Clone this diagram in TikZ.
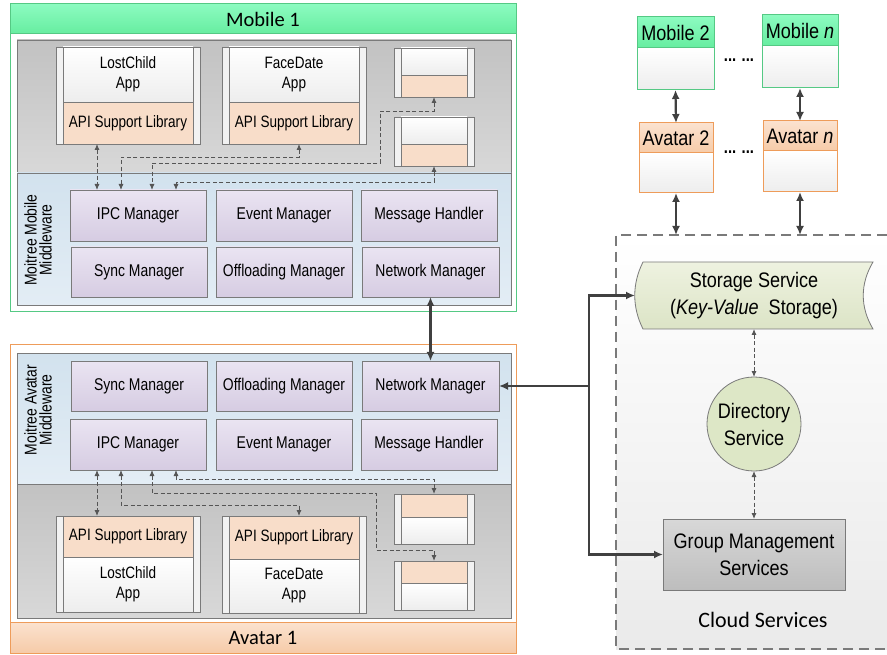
\documentclass[tikz,border=0pt]{standalone}
\usepackage{fontspec}
\setmainfont{Liberation Sans}
\newfontfamily\af[FakeStretch=0.82]{Liberation Sans}
\newfontfamily\bigff[FakeStretch=0.86]{Liberation Sans}
\newfontfamily\hf{Carlito}
\usetikzlibrary{arrows.meta,calc}

\definecolor{gbord}{HTML}{55C984}
\definecolor{gtop}{HTML}{8CFBC0}
\definecolor{gbot}{HTML}{66EDA0}
\definecolor{obord}{HTML}{EE9C5A}
\definecolor{otop}{HTML}{FBE2CF}
\definecolor{obot}{HTML}{F6CBA8}
\definecolor{graytop}{HTML}{C2C2C2}
\definecolor{graybot}{HTML}{D8D8D8}
\definecolor{bluetop}{HTML}{D2E2EE}
\definecolor{bluebot}{HTML}{E3EDF5}
\definecolor{lavtop}{HTML}{EAE4F2}
\definecolor{lavbot}{HTML}{D6CCE2}
\definecolor{bord}{HTML}{7A7A7A}
\definecolor{peach}{HTML}{F8DDC9}
\definecolor{appbot}{HTML}{EDEDED}
\definecolor{cArr}{HTML}{404040}
\definecolor{cDarr}{HTML}{555555}
\definecolor{olivetop}{HTML}{EEF2E0}
\definecolor{olivebot}{HTML}{DCE4C6}
\definecolor{dircol}{HTML}{DDE7C6}
\definecolor{gmtop}{HTML}{D8D8D8}
\definecolor{gmbot}{HTML}{BDBDBD}
\definecolor{cloudbot}{HTML}{EAEAEA}

\tikzset{
  base/.style={rectangle, inner sep=0pt, outer sep=0pt},
  boxfont/.style={font=\af\fontsize{17}{18}\selectfont},
  appfont/.style={font=\af\fontsize{16.5}{20}\selectfont},
  bigfont/.style={font=\bigff\fontsize{21}{27}\selectfont},
  mgr/.style={base, draw=bord, line width=0.8pt, top color=lavtop, bottom color=lavbot, boxfont},
  grayarea/.style={base, draw=bord, line width=0.8pt, top color=graytop, bottom color=graybot},
  bluearea/.style={base, draw=bord, line width=0.8pt, top color=bluetop, bottom color=bluebot},
  mwlabel/.style={rotate=90, align=center, font=\af\fontsize{17}{15}\selectfont},
  appout/.style={base, draw=bord, line width=0.8pt, fill=white!95!black},
  appw/.style={base, draw=bord, line width=0.8pt, top color=white, bottom color=appbot, align=center, appfont},
  appp/.style={base, draw=bord, line width=0.8pt, fill=peach, align=center, appfont},
  ghead/.style={base, draw=gbord, line width=1pt, top color=gtop, bottom color=gbot, bigfont},
  gbody/.style={base, draw=gbord, line width=1pt, top color=white, bottom color=appbot},
  ohead/.style={base, draw=obord, line width=1pt, top color=otop, bottom color=obot, bigfont},
  obody/.style={base, draw=obord, line width=1pt, top color=white, bottom color=appbot},
  dar/.style={draw=cDarr, line width=0.9pt, dash pattern=on 4pt off 2.5pt,
    arrows={Latex[length=6pt,width=5pt]-Latex[length=6pt,width=5pt]}},
  tar/.style={draw=cArr, line width=2.2pt,
    arrows={Latex[length=9pt,width=8pt]-Latex[length=9pt,width=8pt]}},
  tone/.style={draw=cArr, line width=2.2pt, arrows={-Latex[length=9pt,width=8pt]}},
  cloudb/.style={draw=bord, line width=1.1pt, dash pattern=on 10pt off 6pt},
}

\begin{document}
\begin{tikzpicture}[x=1pt,y=-1pt]
\useasboundingbox (0,0) rectangle (887,655);
\fill[white] (0,0) rectangle (887,655);

% ================= Mobile 1 =================
\node[base, draw=gbord, line width=1pt, fill=white, minimum width=506, minimum height=308] (mob1) at (263,158) {};
\node[grayarea, minimum width=494, minimum height=133] (gray1) at (264,106.5) {};
\node[bluearea, minimum width=494, minimum height=132] (blue1) at (264,239) {};
\node[base, draw=gbord, line width=1pt, top color=gtop, bottom color=gbot, minimum width=506, minimum height=30, font=\hf\fontsize{20.5}{24}\selectfont] (mob1h) at (263,19) {Mobile 1};

\node[mwlabel] (mw1) at (38,240) {Moitree Mobile\\Middleware};

% apps
\node[appout, minimum width=144, minimum height=97] (lc1) at (128,95.5) {};
\node[appw, minimum width=130, minimum height=55] (lc1t) at (128,74.5) {LostChild\\App};
\node[appp, minimum width=130, minimum height=42] (lc1b) at (128,123) {API Support Library};

\node[appout, minimum width=144, minimum height=97] (fd1) at (294,95.5) {};
\node[appw, minimum width=130, minimum height=55] (fd1t) at (294,74.5) {FaceDate\\App};
\node[appp, minimum width=130, minimum height=42] (fd1b) at (294,123) {API Support Library};

\node[appout, minimum width=80, minimum height=49] (sb1) at (434,72.5) {};
\node[appw, minimum width=66, minimum height=27] (sb1t) at (434,61.5) {};
\node[appp, minimum width=66, minimum height=22] (sb1b) at (434,86) {};

\node[appout, minimum width=80, minimum height=49] (sb2) at (434,141.5) {};
\node[appw, minimum width=66, minimum height=27] (sb2t) at (434,130.5) {};
\node[appp, minimum width=66, minimum height=22] (sb2b) at (434,155) {};

% managers
\node[mgr, minimum width=136, minimum height=51] (ipc1) at (138,215.5) {IPC Manager};
\node[mgr, minimum width=136, minimum height=51] (ev1) at (284,215.5) {Event Manager};
\node[mgr, minimum width=136, minimum height=51] (msg1) at (429,215.5) {Message Handler};
\node[mgr, minimum width=136, minimum height=50] (sync1) at (139,272) {Sync Manager};
\node[mgr, minimum width=136, minimum height=50] (off1) at (284,272) {Offloading Manager};
\node[mgr, minimum width=137, minimum height=50] (net1) at (430.5,272) {Network Manager};

% ================= Avatar 1 =================
\node[base, draw=obord, line width=1pt, fill=white, minimum width=506, minimum height=308] (av1) at (263,499) {};
\node[bluearea, minimum width=494, minimum height=131] (blue2) at (264,418.5) {};
\node[grayarea, minimum width=494, minimum height=134] (gray2) at (264,551) {};
\node[base, draw=obord, line width=1pt, top color=otop, bottom color=obot, minimum width=506, minimum height=31, font=\hf\fontsize{20.5}{24}\selectfont] (av1h) at (263,637.5) {Avatar 1};

\node[mwlabel] (mw2) at (38,410) {Moitree Avatar\\Middleware};

\node[mgr, minimum width=136, minimum height=50] (sync2) at (139,386) {Sync Manager};
\node[mgr, minimum width=136, minimum height=50] (off2) at (284,386) {Offloading Manager};
\node[mgr, minimum width=137, minimum height=50] (net2) at (430.5,386) {Network Manager};
\node[mgr, minimum width=136, minimum height=51] (ipc2) at (138,444.5) {IPC Manager};
\node[mgr, minimum width=136, minimum height=51] (ev2) at (284,444.5) {Event Manager};
\node[mgr, minimum width=136, minimum height=51] (msg2) at (429,444.5) {Message Handler};

\node[appout, minimum width=144, minimum height=96] (lc2) at (128,564) {};
\node[appp, minimum width=130, minimum height=41] (lc2t) at (128,536.5) {API Support Library};
\node[appw, minimum width=130, minimum height=55] (lc2b) at (128,584.5) {LostChild\\App};

\node[appout, minimum width=144, minimum height=97] (fd2) at (294,564.5) {};
\node[appp, minimum width=130, minimum height=43] (fd2t) at (294,537.5) {API Support Library};
\node[appw, minimum width=130, minimum height=54] (fd2b) at (294,586) {FaceDate\\App};

\node[appout, minimum width=80, minimum height=50] (sb3) at (434,519) {};
\node[appp, minimum width=66, minimum height=23] (sb3t) at (434,505.5) {};
\node[appw, minimum width=66, minimum height=27] (sb3b) at (434,530.5) {};

\node[appout, minimum width=80, minimum height=49] (sb4) at (434,585.5) {};
\node[appp, minimum width=66, minimum height=22] (sb4t) at (434,572) {};
\node[appw, minimum width=66, minimum height=27] (sb4b) at (434,596.5) {};

% dashed connectors
\coordinate (xa) at (97,0);
\coordinate (xb) at (121,0);
\coordinate (xc) at (152,0);
\coordinate (xd) at (176,0);

\draw[dar] (lc1.south -| xa) -- (ipc1.north -| xa);
\draw[dar] ([xshift=5]fd1.south) -- ++(0,13) -| (ipc1.north -| xb);
\draw[dar] (sb1.south) -- ++(0,14) -- ++(-54,0) -- ++(0,52) -| (ipc1.north -| xc);
\draw[dar] (sb2.south) -- ++(0,16) -| (ipc1.north -| xd);

\draw[dar] (ipc2.south -| xa) -- (lc2.north -| xa);
\draw[dar] (ipc2.south -| xb) -- ++(0,35) -| ([xshift=5]fd2.north);
\draw[dar] (ipc2.south -| xc) -- ++(0,23) -- ++(224,0) -- ++(0,57) -| (sb4.north);
\draw[dar] (ipc2.south -| xd) -- ++(0,9) -| (sb3.north);

\draw[tar] (net1.south) -- (net2.north);

% ================= Right side =================
\node[ghead, minimum width=77, minimum height=31] (m2h) at (675.5,32.5) {Mobile 2};
\node[gbody, minimum width=77, minimum height=42] (m2b) at (675.5,69) {};
\node[ghead, minimum width=76, minimum height=31] (mnh) at (800,30.5) {Mobile \textit{n}};
\node[gbody, minimum width=76, minimum height=42] (mnb) at (800,67) {};

\node[ohead, minimum width=74, minimum height=30] (a2h) at (676,138) {Avatar 2};
\node[obody, minimum width=74, minimum height=40] (a2b) at (676,173) {};
\node[ohead, minimum width=74, minimum height=30] (anh) at (800,136) {Avatar \textit{n}};
\node[obody, minimum width=74, minimum height=41] (anb) at (800,171.5) {};

\node[font=\af\bfseries\fontsize{18}{20}\selectfont] (dots1) at (739,60) {... ...};
\node[font=\af\bfseries\fontsize{18}{20}\selectfont] (dots2) at (739,152) {... ...};

\draw[tar] (m2b.south) -- (a2h.north);
\draw[tar] (mnb.south) -- (anh.north);

% cloud
\node[base, top color=white, bottom color=cloudbot, minimum width=271, minimum height=414, anchor=north west] (cloud) at (616,235) {};
\draw[cloudb] (cloud.north east) -- (cloud.north west) -- (cloud.south west) -- (cloud.south east);

\draw[tar] (a2b.south) -- (a2b.south |- cloud.north);
\draw[tar] (anb.south) -- (anb.south |- cloud.north);

\draw[draw=bord, line width=0.8pt, top color=olivetop, bottom color=olivebot]
  (643,262) -- (873,262) .. controls (860,284) and (860,307) .. (873,329)
  -- (643,329) .. controls (632,307) and (632,284) .. (643,262) -- cycle;
\node[base, minimum width=238, minimum height=67, align=center, bigfont] (store) at (754,295.5)
  {Storage Service\\(\textit{Key-Value}\ \ Storage)};

\node[circle, draw=bord, line width=0.8pt, fill=dircol, minimum size=94, inner sep=0pt, outer sep=0pt, align=center, bigfont] (dir) at (754,424) {Directory\\Service};

\node[base, draw=bord, line width=0.8pt, top color=gmtop, bottom color=gmbot, minimum width=182, minimum height=71, align=center, bigfont] (gm) at (754,554.5) {Group Management\\Services};

\node[font=\hf\fontsize{22}{26}\selectfont] (cs) at (763,620) {Cloud Services};

\draw[dar] (store.south) -- (dir.north);
\draw[dar] (dir.south) -- (gm.north);

% thick tree from network manager
\coordinate (jx) at (589,0);
\draw[tone] (gm.west -| jx) |- (store.west);
\draw[tone, line cap=rect] (gm.west -| jx) -- (gm.west);
\draw[tone] (net2.east -| jx) -- (net2.east);
\end{tikzpicture}
\end{document}
